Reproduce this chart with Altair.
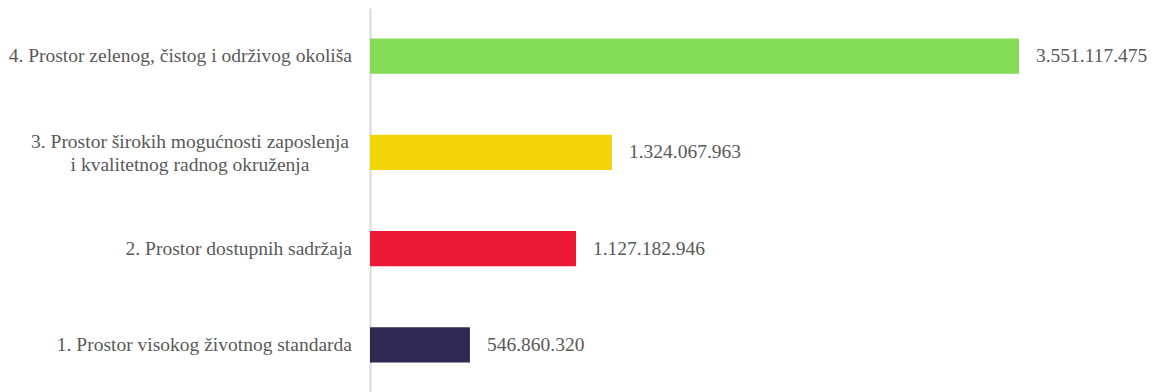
import altair as alt
import pandas as pd

keys = ["4", "3", "2", "1"]
label_text = [
    "4. Prostor zelenog, čistog i održivog okoliša",
    "3. Prostor širokih mogućnosti zaposlenja\ni kvalitetnog radnog okruženja",
    "2. Prostor dostupnih sadržaja",
    "1. Prostor visokog životnog standarda",
]
multiline = [False, True, False, False]
values = [3551117475, 1324067963, 1127182946, 546860320]
value_labels = ["3.551.117.475", "1.324.067.963", "1.127.182.946", "546.860.320"]
colors = ["#84DB55", "#F2D40B", "#ED1835", "#2E2852"]

df = pd.DataFrame({
    "key": keys,
    "label": label_text,
    "multi": multiline,
    "value": values,
    "vlabel": value_labels,
})

FONT = "Liberation Serif"
FS = 19.5
TXT = "#595959"

y_enc = alt.Y(
    "key:N",
    sort=keys,
    scale=alt.Scale(paddingInner=0.636, paddingOuter=0.318),
    axis=alt.Axis(domain=True, domainColor="#d9d9d9", domainWidth=2,
                  ticks=False, labels=False, title=None, grid=False),
)
x_enc = alt.X("value:Q", scale=alt.Scale(domain=[0, 4e9]), axis=None)

base = alt.Chart(df)

bars = base.mark_bar().encode(
    x=x_enc,
    y=y_enc,
    color=alt.Color("key:N", scale=alt.Scale(domain=keys, range=colors), legend=None),
)

vals = base.mark_text(align="left", baseline="middle", dx=17, font=FONT,
                      fontSize=FS, color=TXT).encode(
    x=x_enc, y=alt.Y("key:N", sort=keys), text="vlabel:N"
)

single = base.transform_filter("!datum.multi").mark_text(
    align="right", baseline="middle", font=FONT, fontSize=FS, color=TXT
).encode(x=alt.value(-18), y=alt.Y("key:N", sort=keys), text="label:N")

multi = base.transform_filter("datum.multi").mark_text(
    align="center", baseline="middle", font=FONT, fontSize=FS, color=TXT,
    lineBreak="\n", lineHeight=23, dy=-10.5
).encode(x=alt.value(-180), y=alt.Y("key:N", sort=keys), text="label:N")

chart = alt.layer(bars, vals, single, multi).properties(
    width=731, height=385,
    background="white",
    autosize=alt.AutoSizeParams(type="none"),
    padding={"left": 370, "top": 8, "right": 55, "bottom": 0},
).configure_view(strokeWidth=0, stroke="transparent")

chart.save("out.html", embed_options={"renderer": "svg", "actions": False})
